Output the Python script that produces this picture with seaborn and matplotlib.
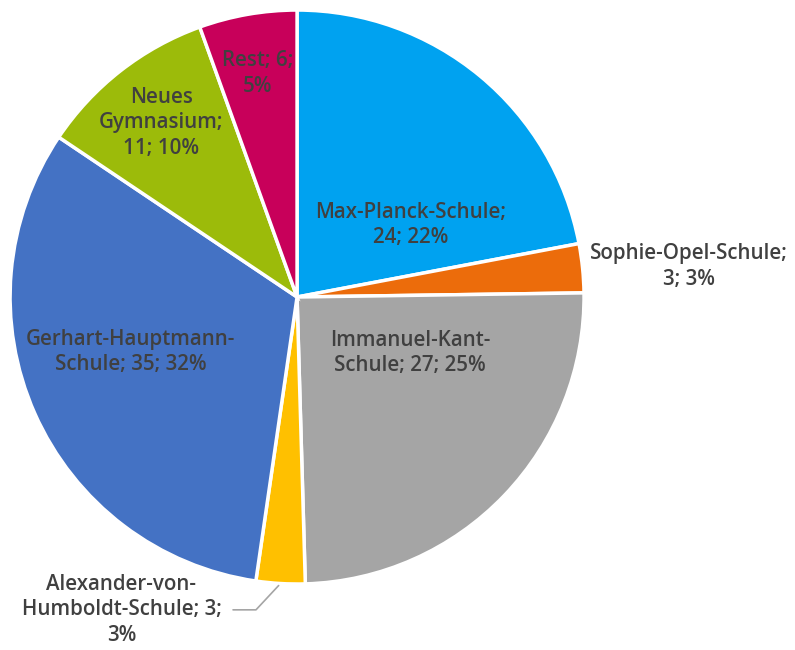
import numpy as np
import matplotlib
matplotlib.use("Agg")
from matplotlib import pyplot as plt
import seaborn as sns

# Data
schools = ["Max-Planck-Schule", "Sophie-Opel-Schule", "Immanuel-Kant-Schule",
           "Alexander-von-Humboldt-Schule", "Gerhart-Hauptmann-Schule",
           "Neues Gymnasium", "Rest"]
counts = [24, 3, 27, 3, 35, 11, 6]
percents = [22, 3, 25, 3, 32, 10, 5]
label_texts = ["Max-Planck-Schule;\n24; 22%",
               "Sophie-Opel-Schule;\n3; 3%",
               "Immanuel-Kant-\nSchule; 27; 25%",
               "Alexander-von-\nHumboldt-Schule; 3;\n3%",
               "Gerhart-Hauptmann-\nSchule; 35; 32%",
               "Neues\nGymnasium;\n11; 10%",
               "Rest; 6;\n5%"]
colors = ["#00A2F0", "#EC6C0B", "#A5A5A5", "#FFC000", "#4472C4", "#9CBB0A", "#C8005A"]

sns.set_style("white")
plt.rcParams["font.family"] = ["Open Sans", "DejaVu Sans"]

fig = plt.figure(figsize=(7.95, 6.5), dpi=100)
ax = fig.add_axes([0, 0, 1, 1])
wedges, _ = ax.pie(counts, colors=colors, startangle=90, counterclock=False,
                   radius=1.0, wedgeprops=dict(edgecolor="white", linewidth=2.5))
ax.set_xlim(-1.035, 1.735)
ax.set_ylim(-1.23, 1.035)
ax.set_aspect("equal")
ax.axis("off")

# label radius (fraction of pie radius) and angle nudge, per slice
label_r = [0.47, 1.37, 0.44, 1.25, 0.61, 0.77, 0.79]
label_da = [-18, -1.3, 17.4, -26, -5.7, 0, 0]
txt_color = "#404040"
fs = 14.8

for i, w in enumerate(wedges):
    mid = np.deg2rad((w.theta1 + w.theta2) / 2 + label_da[i])
    tx, ty = label_r[i] * np.cos(mid), label_r[i] * np.sin(mid)
    if schools[i].startswith("Alexander"):
        m = np.deg2rad((w.theta1 + w.theta2) / 2)
        ax.annotate(label_texts[i], xy=(np.cos(m), np.sin(m)), xytext=(tx, ty),
                    ha="center", va="center", fontsize=fs, color=txt_color,
                    linespacing=1.28, fontweight="semibold",
                    arrowprops=dict(arrowstyle="-", color="#A5A5A5", lw=1.2,
                                    relpos=(1, 0.5), shrinkA=6, shrinkB=2,
                                    connectionstyle="angle,angleA=0,angleB=47"))
    else:
        ax.text(tx, ty, label_texts[i], ha="center", va="center", fontsize=fs,
                color=txt_color, linespacing=1.28, fontweight="semibold")

plt.savefig("out.png", dpi=100)
